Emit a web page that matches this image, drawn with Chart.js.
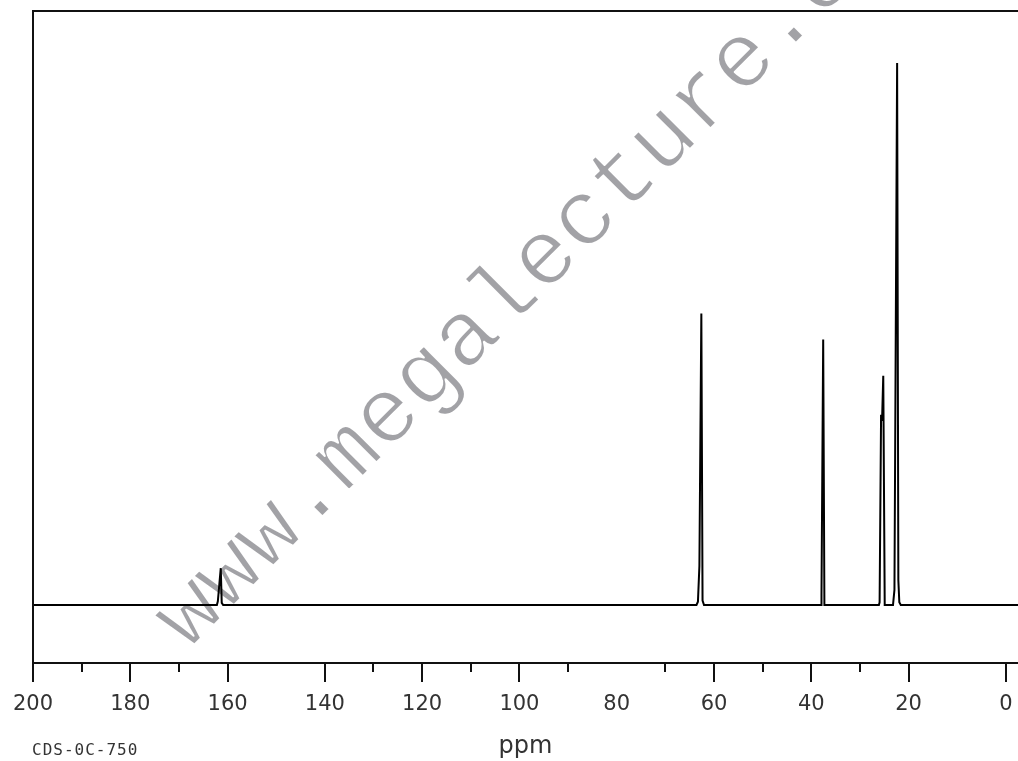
<!DOCTYPE html>
<html>
<head>
<meta charset="utf-8">
<script src="https://cdn.jsdelivr.net/npm/chart.js@4/dist/chart.umd.min.js"></script>
<style>
  html, body { margin: 0; padding: 0; background: #fff; }
  canvas { display: block; }
</style>
</head>
<body>
<canvas id="nmrChart" width="1018" height="761"></canvas>
<script>
// 13C NMR spectrum
const ppm = [200, 162.2, 162.0, 161.4, 161.2, 160.9,
  63.6, 63.3, 63.0, 62.6, 62.35, 62.05,
  38.0, 37.9, 37.55, 37.3,
  26.1, 25.95, 25.65, 25.45, 25.2, 24.9,
  23.2, 22.9, 22.35, 22.1, 21.9, 21.6, -2.5];
const intensity = [0, 0, 0.7, 6.8, 0.4, 0,
  0, 0.6, 7.2, 53.8, 0.8, 0,
  0, 2, 49, 0,
  0, 0.5, 35.1, 34, 42.3, 0,
  0, 2.8, 100, 4.6, 0.5, 0, 0];

const labelTicks = [200, 180, 160, 140, 120, 100, 80, 60, 40, 20, 0];
const majorMarks = [200, 180, 160, 140, 120, 100, 60, 40, 20, 0];
const minorMarks = [190, 170, 130, 110, 90, 70, 50, 30];

const axisTitle = "ppm";
const sampleCode = "CDS-0C-750";
const watermark = "www.megalecture.com";

const points = ppm.map((p, i) => ({ x: p, y: intensity[i] }));

// gray diagonal watermark behind the trace (thinned on an offscreen canvas)
const watermarkPlugin = {
  id: "watermark",
  beforeDatasetsDraw(chart) {
    const off = document.createElement("canvas");
    off.width = chart.width;
    off.height = chart.height;
    const o = off.getContext("2d");
    o.translate(188, 651);
    o.rotate(-Math.PI / 4);
    o.font = '93px "Liberation Mono"';
    o.fillStyle = "#a2a2a6";
    o.textAlign = "left";
    o.textBaseline = "alphabetic";
    o.fillText(watermark, 0, 0);
    o.globalCompositeOperation = "destination-out";
    o.lineWidth = 2;
    o.lineJoin = "round";
    o.strokeText(watermark, 0, 0);
    chart.ctx.drawImage(off, 0, 0);
  },
};

// frame, axis line, tick marks and sample code
const framePlugin = {
  id: "frame",
  afterDraw(chart) {
    const ctx = chart.ctx;
    const { left, top, right, bottom } = chart.chartArea;
    const xs = chart.scales.x;
    ctx.save();
    ctx.strokeStyle = "#111";
    ctx.lineWidth = 2;
    ctx.beginPath();
    ctx.moveTo(right, top);
    ctx.lineTo(left, top);
    ctx.lineTo(left, bottom);
    ctx.lineTo(right, bottom);
    ctx.stroke();

    ctx.beginPath();
    majorMarks.forEach((v) => {
      const px = Math.round(xs.getPixelForValue(v));
      ctx.moveTo(px, bottom);
      ctx.lineTo(px, bottom + 19);
    });
    minorMarks.forEach((v) => {
      const px = Math.round(xs.getPixelForValue(v));
      ctx.moveTo(px, bottom);
      ctx.lineTo(px, bottom + 9);
    });
    ctx.stroke();

    ctx.font = '16px "DejaVu Sans Mono"';
    ctx.letterSpacing = "1px";
    ctx.fillStyle = "#333";
    ctx.textAlign = "left";
    ctx.textBaseline = "alphabetic";
    ctx.fillText(sampleCode, 32, 755);
    ctx.restore();
  },
};

new Chart(document.getElementById("nmrChart"), {
  type: "line",
  data: {
    datasets: [
      {
        label: "13C",
        data: points,
        borderColor: "#000",
        borderWidth: 2,
        pointRadius: 0,
        tension: 0,
        fill: false,
      },
    ],
  },
  options: {
    responsive: false,
    animation: false,
    layout: {
      padding: { left: 33, top: 11, right: 0, bottom: 0 },
    },
    plugins: {
      legend: { display: false },
      tooltip: { enabled: false },
    },
    scales: {
      x: {
        type: "linear",
        reverse: true,
        min: -2.5,
        max: 200,
        afterBuildTicks: (scale) => {
          scale.ticks = labelTicks.map((v) => ({ value: v }));
        },
        afterFit: (scale) => {
          scale.height = 98;
          scale.paddingLeft = 0;
          scale.paddingRight = 0;
        },
        grid: { display: false, drawTicks: false },
        border: { display: false },
        ticks: {
          autoSkip: false,
          maxRotation: 0,
          padding: 29,
          color: "#333",
          font: { family: "DejaVu Sans", size: 21 },
          callback: (v) => String(v),
        },
        title: {
          display: true,
          text: axisTitle,
          color: "#333",
          font: { family: "DejaVu Sans", size: 24 },
          padding: { top: 0, bottom: 0 },
        },
      },
      y: {
        display: false,
        min: -10.7,
        max: 109.6,
      },
    },
  },
  plugins: [watermarkPlugin, framePlugin],
});
</script>
</body>
</html>
